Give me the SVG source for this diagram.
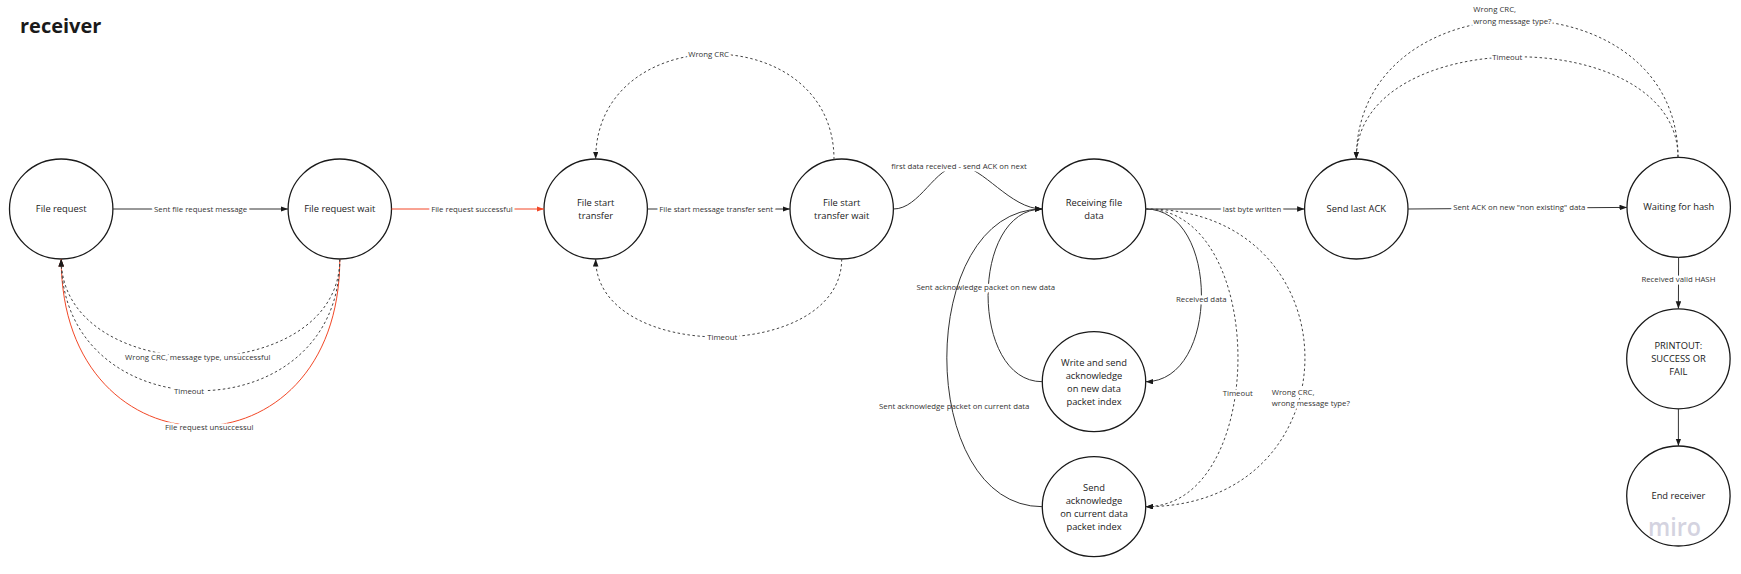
<svg xmlns="http://www.w3.org/2000/svg" width="1741" height="574" viewBox="0 0 1741 574">
<style>
.node ellipse{fill:#fff;stroke:#1a1a1a;stroke-width:1.3}
.node text{font-family:"Open Sans","Noto Sans","Liberation Sans",sans-serif;font-size:9.33px;fill:#1a1a1a;text-anchor:middle}
.c{fill:none;stroke:#333;stroke-width:1}
.d{stroke-dasharray:2.5 2.5;stroke:#444}
.r{stroke:#f24726}
.a{marker-end:url(#arr)}
.ar{marker-end:url(#arrR)}
.lbl{font-family:"Open Sans","Noto Sans","Liberation Sans",sans-serif;font-size:7.8px;fill:#333;text-anchor:middle}
.h{paint-order:stroke;stroke:#fff;stroke-width:5;stroke-linejoin:round}
.left{text-anchor:start}
.title{font-family:"Open Sans","Noto Sans","Liberation Sans",sans-serif;font-size:20px;font-weight:bold;fill:#1a1a1a}
</style>
<defs>
<marker id="arr" markerUnits="userSpaceOnUse" markerWidth="8" markerHeight="6" refX="7.5" refY="2.75" orient="auto"><path d="M0,0 L7.5,2.75 L0,5.5 Z" fill="#1a1a1a"/></marker>
<marker id="arrR" markerUnits="userSpaceOnUse" markerWidth="8" markerHeight="6" refX="7.5" refY="2.75" orient="auto"><path d="M0,0 L7.5,2.75 L0,5.5 Z" fill="#f24726"/></marker>
</defs>
<rect width="1741" height="574" fill="#fff"/>
<text class="title" x="20" y="33">receiver</text>

<g id="n-file-request" class="node"><ellipse cx="61.2" cy="209" rx="51.7" ry="50"/><text x="61.2" y="212.3">File request</text></g>
<g id="n-file-request-wait" class="node"><ellipse cx="339.8" cy="209" rx="51.7" ry="50"/><text x="339.8" y="212.3">File request wait</text></g>
<g id="n-file-start-transfer" class="node"><ellipse cx="595.7" cy="209" rx="51.7" ry="50"/><text x="595.7" y="206"><tspan x="595.7">File start</tspan><tspan x="595.7" dy="13">transfer</tspan></text></g>
<g id="n-file-start-transfer-wait" class="node"><ellipse cx="841.7" cy="209" rx="51.7" ry="50"/><text x="841.7" y="206"><tspan x="841.7">File start</tspan><tspan x="841.7" dy="13">transfer wait</tspan></text></g>
<g id="n-receiving" class="node"><ellipse cx="1094" cy="209" rx="51.7" ry="50"/><text x="1094" y="205.8"><tspan x="1094">Receiving file</tspan><tspan x="1094" dy="13">data</tspan></text></g>
<g id="n-write-send-ack" class="node"><ellipse cx="1094" cy="381.7" rx="51.7" ry="50"/><text x="1094" y="365.5"><tspan x="1094">Write and send</tspan><tspan x="1094" dy="13">acknowledge</tspan><tspan x="1094" dy="13">on new data</tspan><tspan x="1094" dy="13">packet index</tspan></text></g>
<g id="n-send-ack-current" class="node"><ellipse cx="1094" cy="506.7" rx="51.7" ry="50"/><text x="1094" y="490.5"><tspan x="1094">Send</tspan><tspan x="1094" dy="13">acknowledge</tspan><tspan x="1094" dy="13">on current data</tspan><tspan x="1094" dy="13">packet index</tspan></text></g>
<g id="n-send-last-ack" class="node"><ellipse cx="1356.3" cy="209" rx="51.7" ry="50"/><text x="1356.3" y="212.3">Send last ACK</text></g>
<g id="n-waiting-for-hash" class="node"><ellipse cx="1678.7" cy="207.3" rx="51.7" ry="50"/><text x="1678.7" y="210.3">Waiting for hash</text></g>
<g id="n-printout" class="node"><ellipse cx="1678.4" cy="358.8" rx="51.7" ry="50"/><text x="1678.4" y="349.1"><tspan x="1678.4">PRINTOUT:</tspan><tspan x="1678.4" dy="13">SUCCESS OR</tspan><tspan x="1678.4" dy="13">FAIL</tspan></text></g>
<g id="n-end-receiver" class="node"><ellipse cx="1678.4" cy="496" rx="51.7" ry="50"/><text x="1678.4" y="499">End receiver</text></g>

<g id="connectors">
<g id="e1"><path class="c a" d="M112.9,209 L288.1,209"/><text class="lbl h" x="200.6" y="211.8">Sent file request message</text></g>
<g id="e2"><path class="c r ar" d="M391.5,209 L544,209"/><text class="lbl h" x="471.9" y="211.8">File request successful</text></g>
<g id="e5"><path class="c r ar" d="M339.8,259 C339.8,481.7 61.2,481.7 61.2,259"/><text class="lbl h" x="209.3" y="429.8">File request unsuccessul</text></g>
<g id="e3"><path class="c d a" d="M339.8,259 C339.8,389.7 61.2,389.7 61.2,259"/><text class="lbl h" x="197.7" y="360.1">Wrong CRC, message type, unsuccessful</text></g>
<g id="e4"><path class="c d a" d="M339.8,259 C339.8,434.6 61.2,434.6 61.2,259"/><text class="lbl h" x="189" y="393.5">Timeout</text></g>
<g id="e6"><path class="c a" d="M647.4,209 L790,209"/><text class="lbl h" x="716.2" y="211.8">File start message transfer sent</text></g>
<g id="e7"><path class="c d a" d="M834,159.6 C834,19 595.7,19 595.7,159"/><text class="lbl h" x="708.6" y="56.8">Wrong CRC</text></g>
<g id="e8"><path class="c d a" d="M841.7,259 C841.7,363 595.7,363 595.7,259"/><text class="lbl h" x="722.2" y="339.8">Timeout</text></g>
<g id="e9"><path class="c a" d="M893.4,209 C920,209 935,166 959,166 C983,166 1010,209 1042.3,209"/><rect x="890" y="160.5" width="138" height="11" fill="#fff"/><text class="lbl" x="959" y="168.8">first data received - send ACK on next</text></g>
<g id="e10"><path class="c a" d="M1145.7,209 L1304.6,209"/><text class="lbl h" x="1252" y="211.8">last byte written</text></g>
<g id="e11"><path class="c a" d="M1145.7,209 C1220,209 1220,381.7 1145.7,381.7"/><text class="lbl h" x="1201.3" y="301.8">Received data</text></g>
<g id="e12"><path class="c a" d="M1042.3,381.7 C970,381.7 970,209 1042.3,209"/><text class="lbl h" x="985.8" y="290.1">Sent acknowledge packet on new data</text></g>
<g id="e14"><path class="c d a" d="M1145.7,209 C1268.7,209 1268.7,506.7 1145.7,506.7"/><text class="lbl h" x="1237.7" y="395.5">Timeout</text></g>
<g id="e15"><path class="c d a" d="M1145.7,209 C1358,209 1358,506.7 1145.7,506.7"/><text class="lbl h left" x="1271.7" y="395.1"><tspan x="1271.7">Wrong CRC,</tspan><tspan x="1271.7" dy="11.3">wrong message type?</tspan></text></g>
<g id="e13"><text class="lbl" x="954.2" y="408.5">Sent acknowledge packet on current data</text><path class="c a" d="M1042.3,506.7 C915,506.7 915,209 1042.3,209"/></g>
<g id="e16"><path class="c a" d="M1408,209 L1627,207.4"/><text class="lbl h" x="1519.3" y="210.1">Sent ACK on new "non existing" data</text></g>
<g id="e17"><path class="c d a" d="M1678,157.3 C1678,23 1356.3,23 1356.3,159"/><text class="lbl h" x="1507.3" y="59.8">Timeout</text></g>
<g id="e18"><path class="c d a" d="M1678,157.3 C1678,-26 1356.3,-26 1356.3,159"/><text class="lbl h left" x="1473.3" y="12.1"><tspan x="1473.3">Wrong CRC,</tspan><tspan x="1473.3" dy="11.7">wrong message type?</tspan></text></g>
<g id="e19"><path class="c a" d="M1678.6,257.3 L1678.4,308.8"/><text class="lbl h" x="1678.4" y="282.1">Received valid HASH</text></g>
<g id="e20"><path class="c a" d="M1678.4,408.8 L1678.4,446"/></g>
</g>
<text x="1674.5" y="536" font-family="Open Sans, Noto Sans, sans-serif" font-weight="600" font-size="26" fill="#d4d3e0" text-anchor="middle" textLength="53" lengthAdjust="spacingAndGlyphs">miro</text>
</svg>
